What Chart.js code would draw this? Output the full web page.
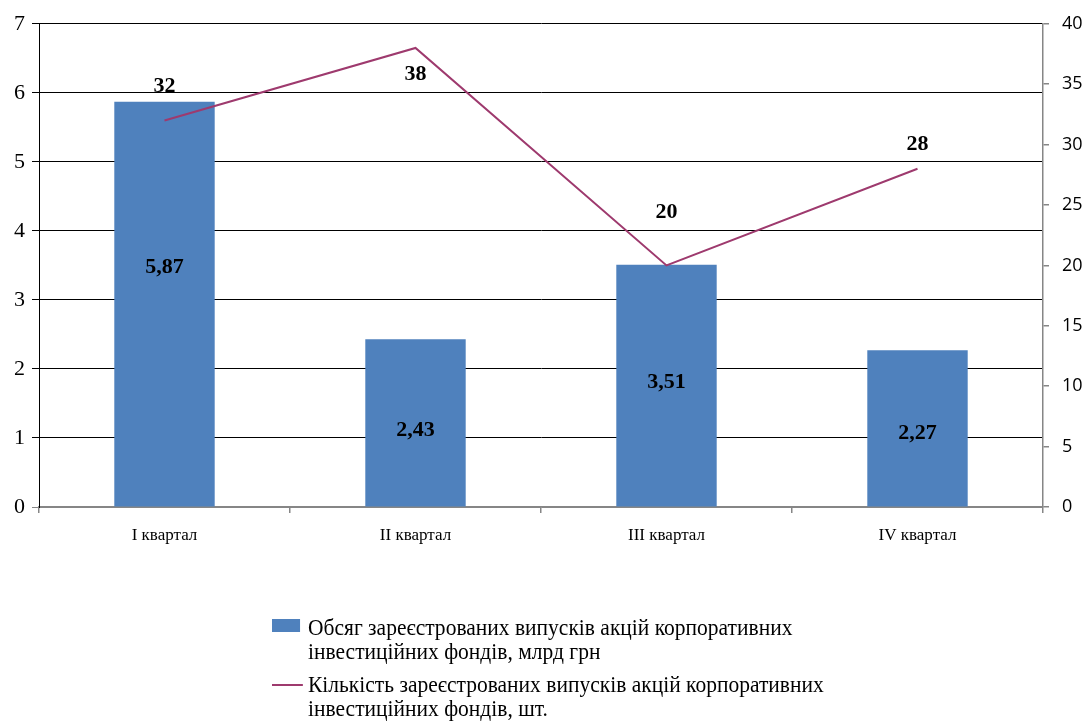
<!DOCTYPE html>
<html>
<head>
<meta charset="utf-8">
<script src="https://cdn.jsdelivr.net/npm/chart.js@4.4.0/dist/chart.umd.min.js"></script>
<style>
  body { margin: 0; background: #fff; }
  #wrap { position: relative; width: 1085px; height: 722px; overflow: hidden; }
  .legend { position: absolute; left: 272px; top: 616px; font-family: "Liberation Serif", "Times New Roman", serif; font-size: 23px; color: #000; line-height: 24px; transform: scaleX(0.935); transform-origin: 0 0; white-space: nowrap; }
  .legend .row { position: relative; padding-left: 38.5px; margin-bottom: 9px; }
  .legend .box { position: absolute; left: 0; top: 3px; width: 30px; height: 13px; background: #4F81BD; }
  .legend .ln { position: absolute; left: 0; top: 11px; width: 33px; height: 2px; background: #9E3A6E; }
</style>
</head>
<body>
<div id="wrap">
  <canvas id="chart" width="1085" height="722"></canvas>
  <div class="legend">
    <div class="row"><span class="box"></span>Обсяг зареєстрованих випусків акцій корпоративних<br>інвестиційних фондів, млрд грн</div>
    <div class="row"><span class="ln"></span>Кількість зареєстрованих випусків акцій корпоративних<br>інвестиційних фондів, шт.</div>
  </div>
</div>
<script>
const categories = ["I квартал", "II квартал", "III квартал", "IV квартал"];
const volume = [5.87, 2.43, 3.51, 2.27];      // млрд грн
const issues = [32, 38, 20, 28];              // шт.
const leftTicks = [0, 1, 2, 3, 4, 5, 6, 7];
const rightTicks = [0, 5, 10, 15, 20, 25, 30, 35, 40];

// label nudges to match where the original put them
const barLabelShift = [-37, 7, -3, 5];
const lineLabelShift = [-34, 26, -53, -24];

const valueLabels = {
    id: "valueLabels",
    afterDatasetsDraw(chart) {
        const ctx = chart.ctx;
        ctx.save();
        ctx.font = "bold 22px 'Liberation Serif', serif";
        ctx.fillStyle = "#000";
        ctx.textAlign = "center";
        ctx.textBaseline = "middle";
        chart.getDatasetMeta(1).data.forEach((bar, i) => {
            const mid = (bar.y + bar.base) / 2;
            ctx.fillText(volume[i].toFixed(2).replace(".", ","), bar.x, mid + barLabelShift[i]);
        });
        chart.getDatasetMeta(0).data.forEach((pt, i) => {
            ctx.fillText(String(issues[i]), pt.x, pt.y + lineLabelShift[i]);
        });
        ctx.restore();
    }
};

const ctx = document.getElementById("chart").getContext("2d");
new Chart(ctx, {
    data: {
        labels: categories,
        datasets: [
            {
                type: "line",
                label: "Кількість зареєстрованих випусків акцій корпоративних інвестиційних фондів, шт.",
                data: issues,
                yAxisID: "y1",
                borderColor: "#9E3A6E",
                borderWidth: 2,
                pointRadius: 0,
                tension: 0,
                order: 0
            },
            {
                type: "bar",
                label: "Обсяг зареєстрованих випусків акцій корпоративних інвестиційних фондів, млрд грн",
                data: volume,
                yAxisID: "y",
                backgroundColor: "#4F81BD",
                categoryPercentage: 1,
                barPercentage: 0.4,
                order: 1
            }
        ]
    },
    options: {
        responsive: false,
        animation: false,
        layout: { padding: { top: 17, left: 0, right: 0, bottom: 0 } },
        plugins: {
            legend: { display: false },
            tooltip: { enabled: false }
        },
        scales: {
            x: {
                offset: true,
                grid: { offset: true, drawOnChartArea: false, drawTicks: true, tickLength: 6, color: "#868686", lineWidth: 1.5 },
                border: { color: "#868686", width: 1.5 },
                ticks: { color: "#000", padding: 12, font: { family: "'Liberation Serif', serif", size: 17 } },
                afterFit(scale) { scale.height = 215; }
            },
            y: {
                position: "left",
                min: 0,
                max: 7,
                afterBuildTicks(scale) { scale.ticks = leftTicks.map(v => ({ value: v })); },
                grid: {
                    color: c => (c.tick && c.tick.value === 0 ? "#868686" : "#000"),
                    lineWidth: 1,
                    tickLength: 7
                },
                border: { color: "#000", width: 1 },
                ticks: { color: "#000", padding: 7, font: { family: "'Liberation Serif', serif", size: 22 } },
                afterFit(scale) { scale.width = 39; }
            },
            y1: {
                position: "right",
                min: 0,
                max: 40,
                afterBuildTicks(scale) { scale.ticks = rightTicks.map(v => ({ value: v })); },
                grid: { drawOnChartArea: false, color: "#868686", tickLength: 6, lineWidth: 1.5 },
                border: { color: "#868686", width: 1.5 },
                ticks: { color: "#000", padding: 13, font: { family: "'Open Sans', sans-serif", size: 18 } },
                afterFit(scale) { scale.width = 42; }
            }
        }
    },
    plugins: [valueLabels]
});
</script>
</body>
</html>
